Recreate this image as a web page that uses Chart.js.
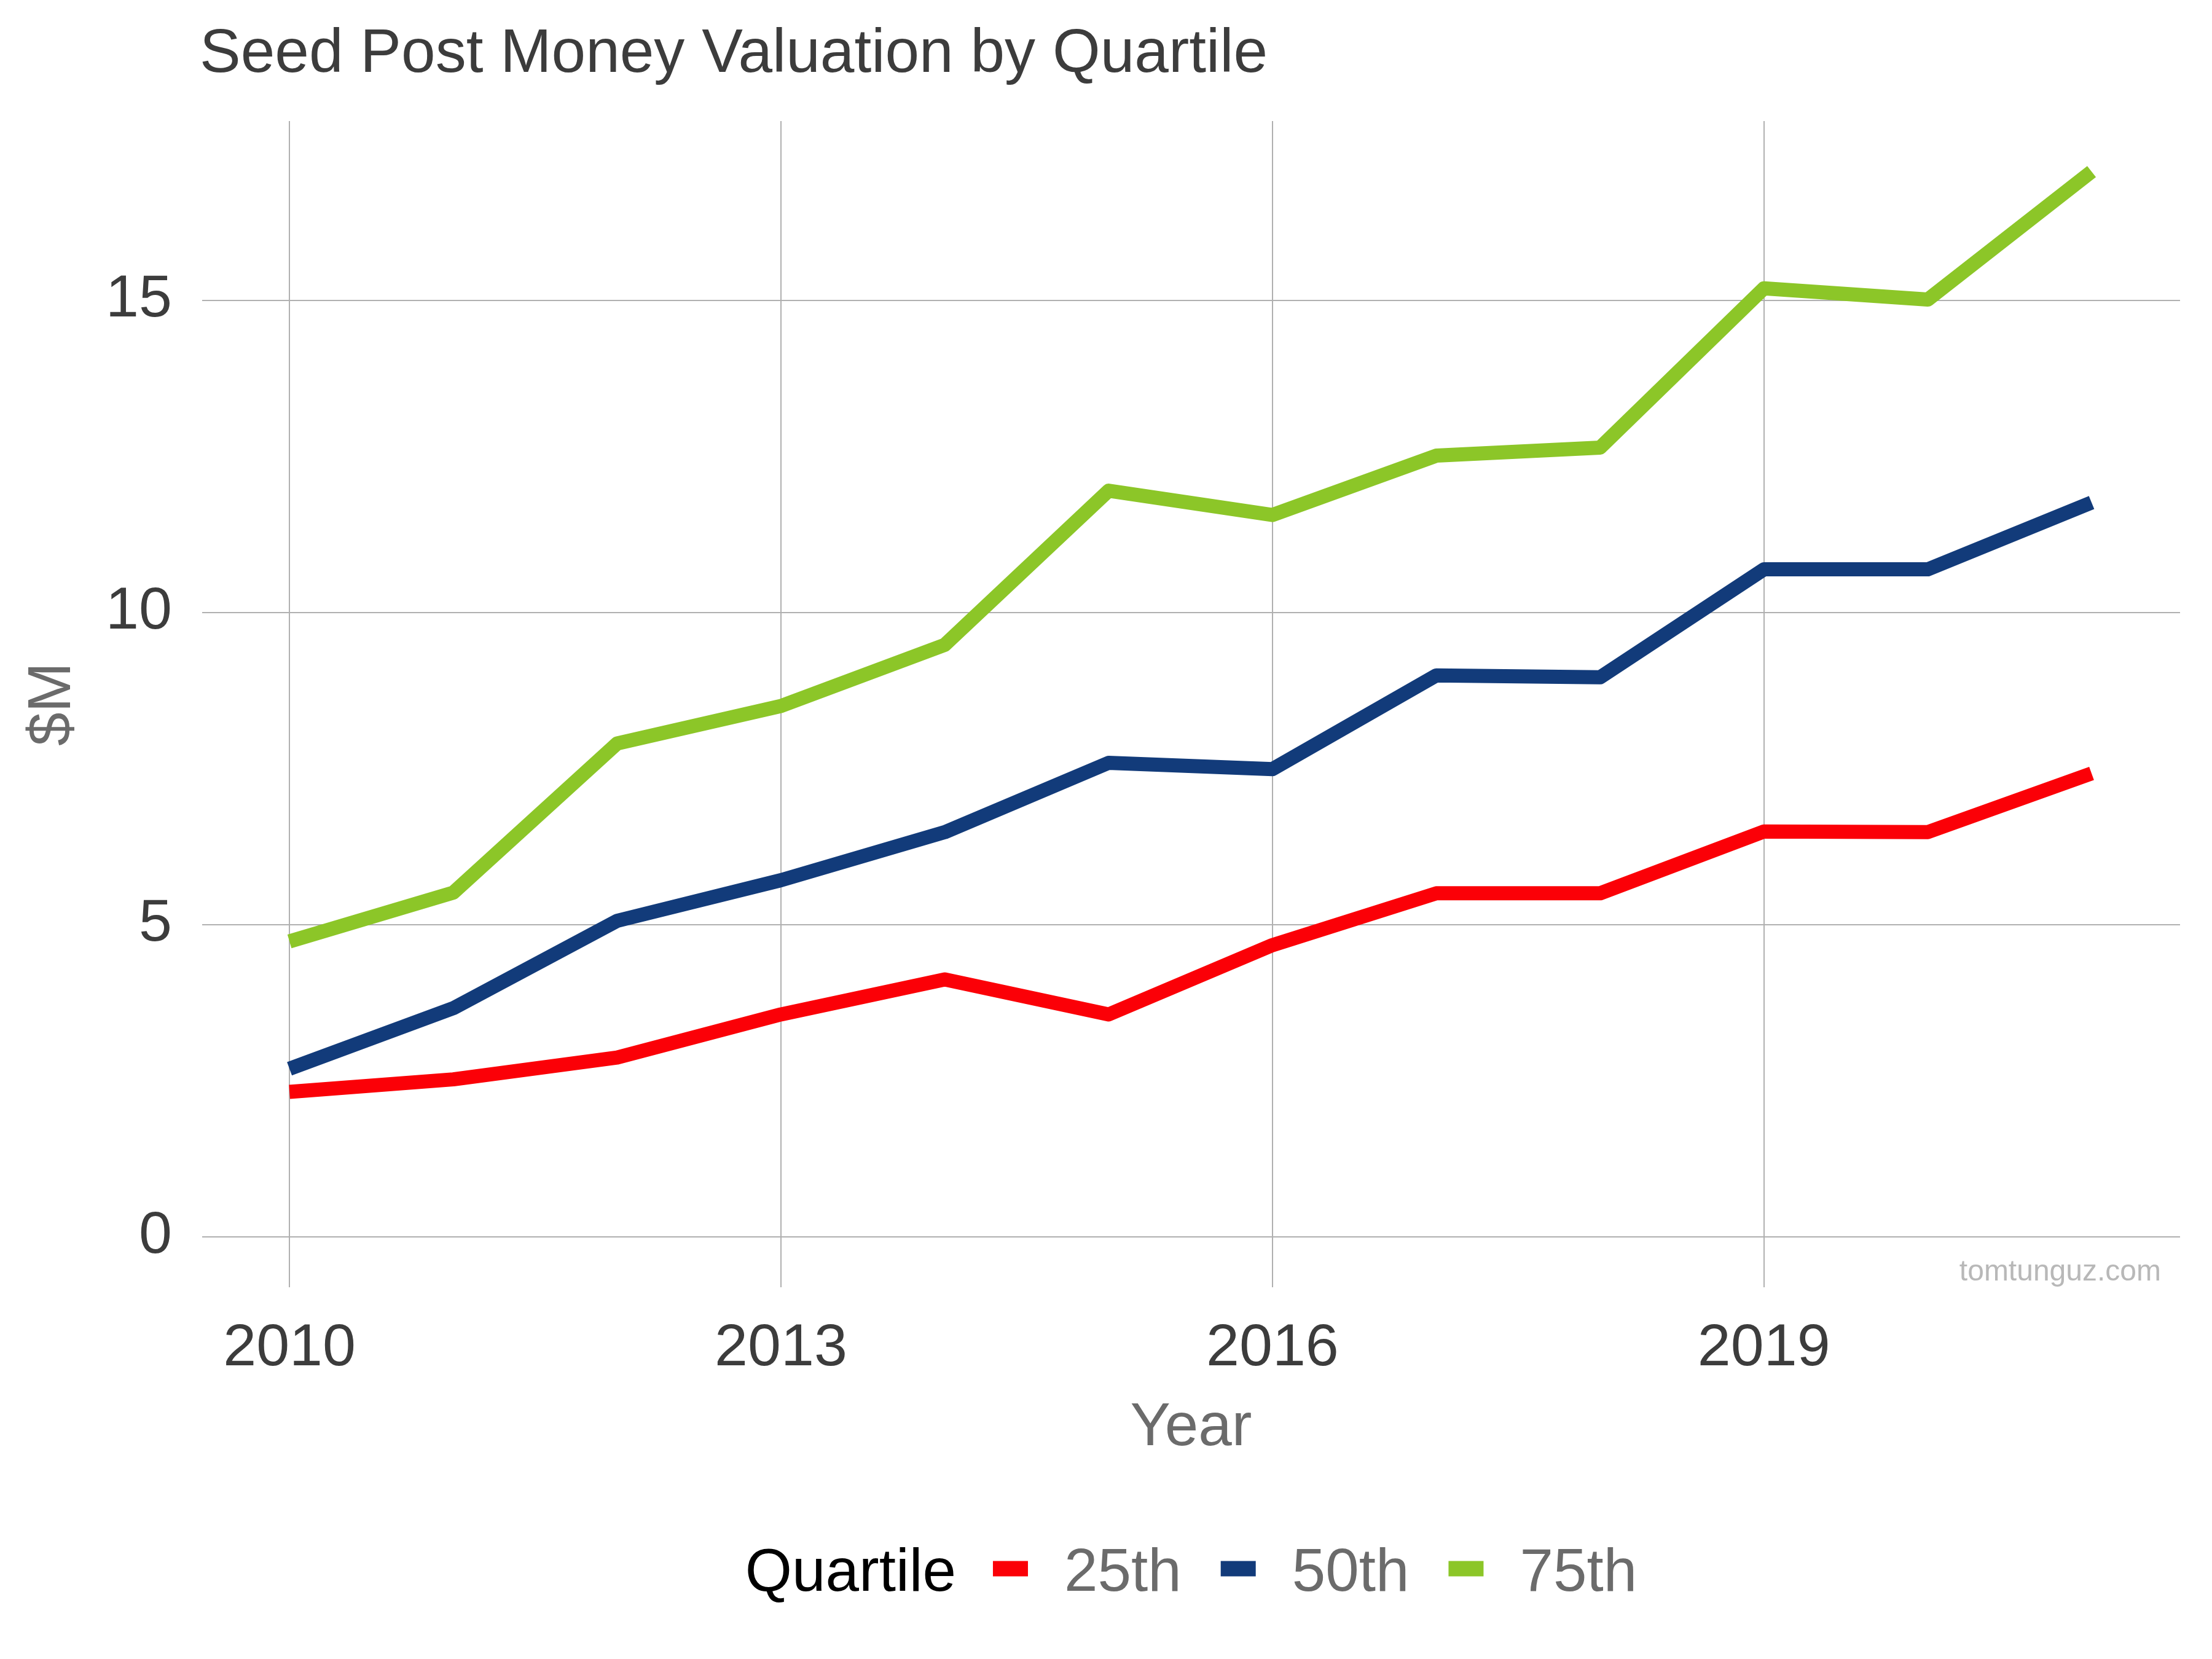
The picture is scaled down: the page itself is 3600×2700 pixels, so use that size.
<!DOCTYPE html>
<html>
<head>
<meta charset="utf-8">
<title>Seed Post Money Valuation by Quartile</title>
<script src="https://cdn.jsdelivr.net/npm/chart.js@4.4.1/dist/chart.umd.min.js"></script>
<style>
  html, body { margin: 0; padding: 0; background: #ffffff; }
  canvas { display: block; }
</style>
</head>
<body>
<canvas id="chartValuacion" width="3600" height="2700"></canvas>
<script>
// Datos (millones de USD)
var years = [2010, 2011, 2012, 2013, 2014, 2015, 2016, 2017, 2018, 2019, 2020, 2021];
var q25 = [2.32, 2.52, 2.87, 3.56, 4.12, 3.56, 4.67, 5.50, 5.50, 6.49, 6.48, 7.42];
var q50 = [2.69, 3.66, 5.06, 5.71, 6.48, 7.59, 7.49, 8.99, 8.96, 10.69, 10.69, 11.76];
var q75 = [4.73, 5.51, 7.90, 8.50, 9.48, 11.95, 11.56, 12.51, 12.64, 15.19, 15.01, 17.06];
var seriesLabels = ['25th', '50th', '75th'];
var xTicks = [2010, 2013, 2016, 2019];
var yTicks = [0, 5, 10, 15];

var FONT = "'Liberation Sans', Arial, Helvetica, sans-serif";
var colores = ['#fb0007', '#123b7a', '#8cc628'];

function puntos(valores) {
    return years.map(function(y, i) { return { x: y, y: valores[i] }; });
}

// Titulo alineado a la izquierda del area del grafico + marca de agua
var tituloPlugin = {
    id: 'tituloPlugin',
    afterDraw: function(chart) {
        var ctx = chart.ctx;
        ctx.save();
        ctx.font = '100px ' + FONT;
        ctx.fillStyle = '#3c3c3c';
        ctx.textAlign = 'left';
        ctx.textBaseline = 'alphabetic';
        ctx.fillText('Seed Post Money Valuation by Quartile', 325, 117);

        ctx.font = '48px ' + FONT;
        ctx.fillStyle = '#b8b8b8';
        ctx.textAlign = 'right';
        ctx.fillText('tomtunguz.com', 3517, 2084);
        ctx.restore();
    }
};

// Leyenda horizontal estilo ggplot: "Quartile" + claves
var leyendaPlugin = {
    id: 'leyendaPlugin',
    afterDraw: function(chart) {
        var ctx = chart.ctx;
        var area = chart.chartArea;
        var baseline = 2589;
        var keyW = 57, keyH = 25;
        var gapTitulo = 60, gapClave = 59, gapItem = 64;

        ctx.save();
        ctx.font = '98px ' + FONT;
        var wTitulo = ctx.measureText('Quartile').width;
        var total = wTitulo;
        chart.data.datasets.forEach(function(ds, i) {
            total += (i === 0 ? gapTitulo : gapItem) + keyW + gapClave + ctx.measureText(ds.label).width;
        });

        var x = (area.left + area.right) / 2 - total / 2;
        ctx.textAlign = 'left';
        ctx.textBaseline = 'alphabetic';
        ctx.fillStyle = '#000000';
        ctx.fillText('Quartile', x, baseline);
        x += wTitulo;

        chart.data.datasets.forEach(function(ds, i) {
            x += (i === 0 ? gapTitulo : gapItem);
            ctx.fillStyle = ds.borderColor;
            ctx.fillRect(x, 2553 - keyH / 2, keyW, keyH);
            x += keyW + gapClave;
            ctx.fillStyle = '#6b6b6b';
            ctx.fillText(ds.label, x, baseline);
            x += ctx.measureText(ds.label).width;
        });
        ctx.restore();
    }
};

var ctxValuacion = document.getElementById('chartValuacion');
new Chart(ctxValuacion, {
    type: 'line',
    data: {
        datasets: [q25, q50, q75].map(function(serie, i) {
            return {
                label: seriesLabels[i],
                data: puntos(serie),
                borderColor: colores[i],
                backgroundColor: colores[i],
                borderWidth: 23,
                borderJoinStyle: 'round',
                borderCapStyle: 'butt',
                pointRadius: 0,
                pointHoverRadius: 0,
                tension: 0,
                fill: false
            };
        })
    },
    options: {
        responsive: false,
        devicePixelRatio: 1,
        animation: false,
        layout: {
            padding: { top: 197, right: 52, bottom: 312, left: 24 }
        },
        plugins: {
            legend: { display: false },
            title: { display: false },
            tooltip: { enabled: false }
        },
        scales: {
            x: {
                type: 'linear',
                min: 2009.467,
                max: 2021.54,
                afterBuildTicks: function(scale) {
                    scale.ticks = xTicks.map(function(v) { return { value: v }; });
                },
                afterFit: function(scale) { scale.height = 293; },
                grid: { color: '#b0b0b0', lineWidth: 2, drawTicks: false },
                border: { display: false },
                ticks: {
                    padding: 42,
                    color: '#3c3c3c',
                    font: { family: FONT, size: 97 },
                    maxRotation: 0,
                    callback: function(v) { return String(v); }
                },
                title: {
                    display: true,
                    text: 'Year',
                    color: '#6b6b6b',
                    font: { family: FONT, size: 98 }
                }
            },
            y: {
                type: 'linear',
                min: -0.81,
                max: 17.87,
                afterBuildTicks: function(scale) {
                    scale.ticks = yTicks.map(function(v) { return { value: v }; });
                },
                afterFit: function(scale) { scale.width = 305; },
                grid: { color: '#b0b0b0', lineWidth: 2, drawTicks: false },
                border: { display: false },
                ticks: {
                    padding: 49,
                    color: '#3c3c3c',
                    font: { family: FONT, size: 97 },
                    callback: function(v) { return String(v); }
                },
                title: {
                    display: true,
                    text: '$M',
                    color: '#6b6b6b',
                    font: { family: FONT, size: 98 }
                }
            }
        }
    },
    plugins: [tituloPlugin, leyendaPlugin]
});
</script>
</body>
</html>
